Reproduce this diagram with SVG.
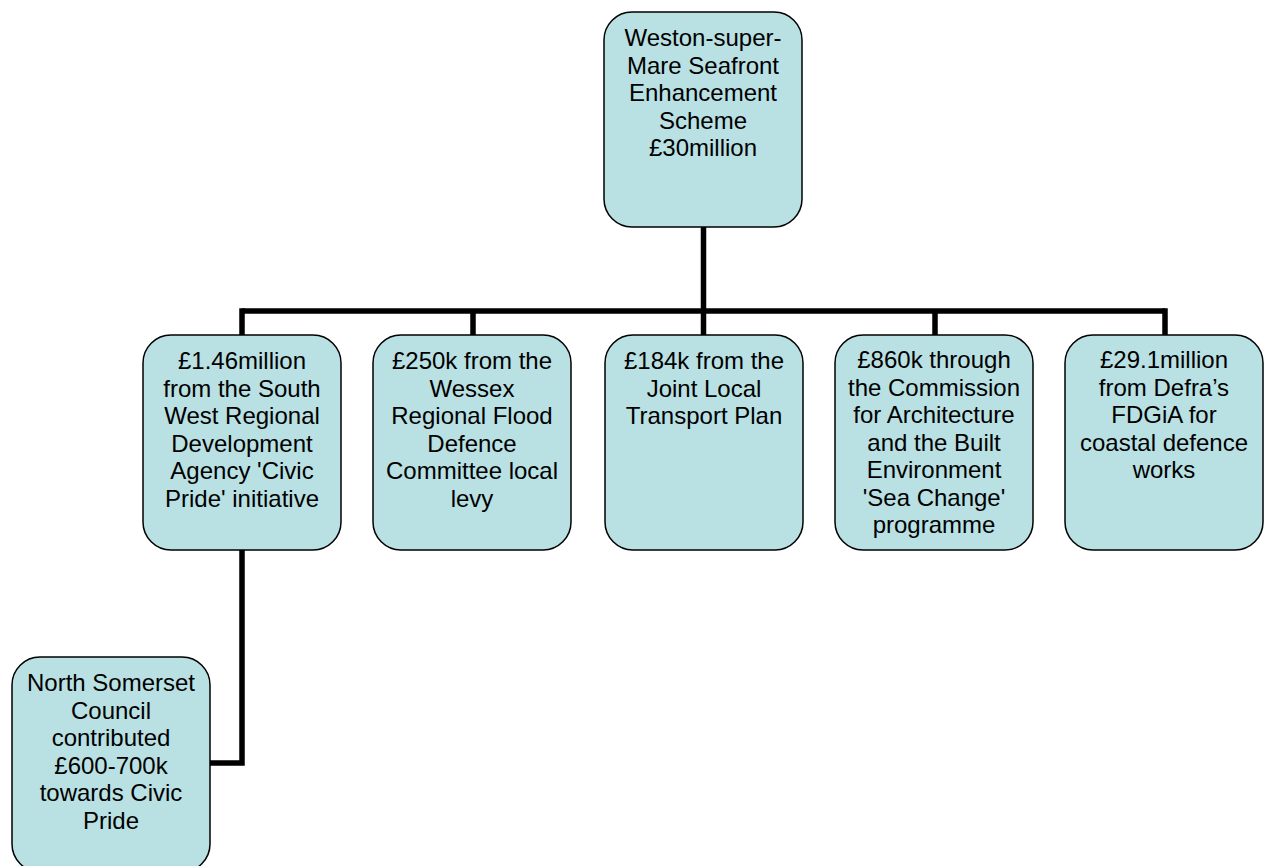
<svg xmlns="http://www.w3.org/2000/svg" width="1264" height="866" viewBox="0 0 1264 866">
<style>
.box{fill:#b9e0e3;stroke:#000;stroke-width:1.5}
.t{font-family:"Liberation Sans",Arial,sans-serif;font-size:24px;fill:#000;text-anchor:middle}
.c{fill:none;stroke:#000;stroke-width:5.5;stroke-linecap:butt;stroke-linejoin:miter}
</style>
<rect width="1264" height="866" fill="#fff"/>
<g id="connectors">
<path class="c" d="M703.5 227 V311"/>
<path class="c" d="M242 311 H1165"/>
<path class="c" d="M242 308.3 V335 M473 311 V335 M703.5 311 V335 M935 311 V335 M1165 308.3 V335"/>
<path class="c" d="M242 550 V763 H210"/>
</g>
<g id="node-top">
<rect class="box" x="604" y="12" width="198" height="215" rx="28"/>
<text class="t" x="703" y="46">Weston-super-<tspan x="703" dy="27.5">Mare Seafront</tspan><tspan x="703" dy="27.5">Enhancement</tspan><tspan x="703" dy="27.5">Scheme</tspan><tspan x="703" dy="27.5">£30million</tspan></text>
</g>
<g id="node-rda">
<rect class="box" x="143" y="335" width="198" height="215" rx="28"/>
<text class="t" x="242" y="369">£1.46million<tspan x="242" dy="27.5">from the South</tspan><tspan x="242" dy="27.5">West Regional</tspan><tspan x="242" dy="27.5">Development</tspan><tspan x="242" dy="27.5">Agency 'Civic</tspan><tspan x="242" dy="27.5">Pride' initiative</tspan></text>
</g>
<g id="node-wessex">
<rect class="box" x="373" y="335" width="198" height="215" rx="28"/>
<text class="t" x="472" y="369">£250k from the<tspan x="472" dy="27.5">Wessex</tspan><tspan x="472" dy="27.5">Regional Flood</tspan><tspan x="472" dy="27.5">Defence</tspan><tspan x="472" dy="27.5">Committee local</tspan><tspan x="472" dy="27.5">levy</tspan></text>
</g>
<g id="node-ltp">
<rect class="box" x="605" y="335" width="198" height="215" rx="28"/>
<text class="t" x="704" y="369">£184k from the<tspan x="704" dy="27.5">Joint Local</tspan><tspan x="704" dy="27.5">Transport Plan</tspan></text>
</g>
<g id="node-cabe">
<rect class="box" x="835" y="335" width="198" height="215" rx="28"/>
<text class="t" x="934" y="368">£860k through<tspan x="934" dy="27.5">the Commission</tspan><tspan x="934" dy="27.5">for Architecture</tspan><tspan x="934" dy="27.5">and the Built</tspan><tspan x="934" dy="27.5">Environment</tspan><tspan x="934" dy="27.5">'Sea Change'</tspan><tspan x="934" dy="27.5">programme</tspan></text>
</g>
<g id="node-defra">
<rect class="box" x="1065" y="335" width="198" height="215" rx="28"/>
<text class="t" x="1164" y="368">£29.1million<tspan x="1164" dy="27.5">from Defra’s</tspan><tspan x="1164" dy="27.5">FDGiA for</tspan><tspan x="1164" dy="27.5">coastal defence</tspan><tspan x="1164" dy="27.5">works</tspan></text>
</g>
<g id="node-nsc">
<rect class="box" x="12" y="657" width="198" height="215" rx="28"/>
<text class="t" x="111" y="691">North Somerset<tspan x="111" dy="27.5">Council</tspan><tspan x="111" dy="27.5">contributed</tspan><tspan x="111" dy="27.5">£600-700k</tspan><tspan x="111" dy="27.5">towards Civic</tspan><tspan x="111" dy="27.5">Pride</tspan></text>
</g>
</svg>
